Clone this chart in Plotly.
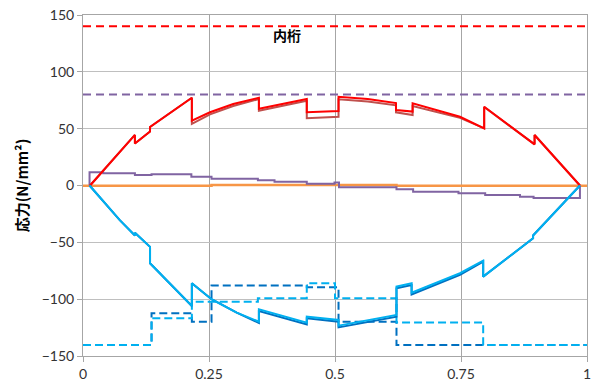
import plotly.graph_objects as go

# Position along the girder (normalised span) and stresses in N/mm2
limit_x = [0.0, 1.0]
upper_limit = [140, 140]
shear_limit = [80, 80]

# Upper flange stress, two load cases
top_x = [0.014, 0.103, 0.103, 0.133, 0.133, 0.216, 0.216, 0.252, 0.298, 0.349, 0.349,
         0.444, 0.444, 0.507, 0.507, 0.565, 0.621, 0.621, 0.654, 0.654, 0.748, 0.796,
         0.796, 0.896, 0.896, 0.986]
top_a = [0, 44.5, 37.0, 47.5, 51.5, 77.2, 57.0, 64.4, 71.7, 77.2, 67.5,
         76.1, 64.4, 65.5, 78.1, 76.0, 72.5, 66.4, 65.0, 72.3, 60.5, 50.3,
         69.3, 36.2, 44.4, 0]
top_b = [0, 44.5, 37.0, 47.5, 51.5, 77.2, 54.3, 62.6, 69.9, 76.1, 65.8,
         74.6, 59.1, 60.5, 75.8, 74.0, 70.5, 64.4, 62.0, 70.0, 59.5, 50.3,
         69.0, 36.2, 44.4, 0]

# Lower flange stress, two load cases
bot_x = [0.013, 0.073, 0.103, 0.103, 0.133, 0.133, 0.216, 0.216, 0.255, 0.305, 0.349,
         0.349, 0.444, 0.444, 0.507, 0.507, 0.622, 0.622, 0.652, 0.652, 0.748, 0.794,
         0.794, 0.893, 0.893, 0.986]
bot_a = [0, -30.5, -44.0, -41.5, -54.0, -68.4, -106.0, -86.0, -100.0, -111.9, -119.8,
         -108.9, -120.7, -115.4, -118.3, -123.3, -113.9, -89.0, -86.0, -94.3, -77.2, -66.1,
         -80.2, -46.5, -44.0, 0]
bot_b = [0, -30.5, -44.0, -41.5, -54.0, -68.4, -106.0, -86.0, -100.0, -111.9, -121.0,
         -110.4, -122.2, -116.9, -119.8, -124.8, -115.4, -90.5, -87.5, -95.8, -78.5, -67.0,
         -80.2, -46.5, -44.0, 0]

# Allowable stress of the lower flange (stepwise)
allow_dark_x = [0.0, 0.136, 0.216, 0.255, 0.444, 0.507, 0.622, 1.0]
allow_dark_y = [-140.3, -112.4, -119.8, -88.0, -89.5, -119.8, -140.3, -140.3]
allow_light_x = [0.0, 0.136, 0.216, 0.347, 0.444, 0.500, 0.622, 0.794, 1.0]
allow_light_y = [-140.3, -116.8, -102.2, -99.2, -86.0, -99.2, -120.5, -140.3, -140.3]

# Shear stress (stepwise)
shear_x = [0.013, 0.013, 0.040, 0.103, 0.136, 0.215, 0.255, 0.347, 0.380, 0.444, 0.499,
           0.508, 0.622, 0.655, 0.745, 0.798, 0.867, 0.894, 0.986]
shear_y = [0, 11.6, 10.7, 9.2, 9.8, 7.8, 6.0, 4.6, 3.4, 1.6, 2.6,
           -1.6, -3.4, -5.4, -6.9, -8.4, -9.8, -11.0, 0]

# Web stress (nearly zero)
web_x = [0.0, 0.255, 0.622, 1.0]
web_y = [-0.2, 0.4, -0.2, -0.2]

x_ticks = [0, 0.25, 0.5, 0.75, 1]
x_tick_text = ["0", "0.25", "0.5", "0.75", "1"]
y_ticks = [-150, -100, -50, 0, 50, 100, 150]

RED = "#FF0000"
DARK_RED = "#C0504D"
LIGHT_BLUE = "#00B0F0"
DARK_BLUE = "#0070C0"
PURPLE = "#8064A2"
ORANGE = "#F79646"

fig = go.Figure()

fig.add_trace(go.Scatter(x=limit_x, y=upper_limit, mode="lines",
                         line=dict(color=RED, width=2, dash="8px,5px")))
fig.add_trace(go.Scatter(x=limit_x, y=shear_limit, mode="lines",
                         line=dict(color=PURPLE, width=2, dash="8px,5px")))
fig.add_trace(go.Scatter(x=allow_dark_x, y=allow_dark_y, mode="lines", line_shape="hv",
                         line=dict(color=DARK_BLUE, width=2, dash="8px,4px")))
fig.add_trace(go.Scatter(x=allow_light_x, y=allow_light_y, mode="lines", line_shape="hv",
                         line=dict(color=LIGHT_BLUE, width=2, dash="8px,4px")))
fig.add_trace(go.Scatter(x=web_x, y=web_y, mode="lines", line_shape="hv",
                         line=dict(color=ORANGE, width=2.5)))
fig.add_trace(go.Scatter(x=shear_x, y=shear_y, mode="lines", line_shape="hv",
                         line=dict(color=PURPLE, width=2)))
fig.add_trace(go.Scatter(x=top_x, y=top_b, mode="lines",
                         line=dict(color=DARK_RED, width=2)))
fig.add_trace(go.Scatter(x=top_x, y=top_a, mode="lines",
                         line=dict(color=RED, width=2)))
fig.add_trace(go.Scatter(x=bot_x, y=bot_b, mode="lines",
                         line=dict(color=DARK_BLUE, width=2)))
fig.add_trace(go.Scatter(x=bot_x, y=bot_a, mode="lines",
                         line=dict(color=LIGHT_BLUE, width=2)))

fig.add_annotation(x=0.405, y=132, text="<b>内桁</b>", showarrow=False,
                   font=dict(family="Noto Sans CJK JP", size=14, color="#000000"))

fig.update_layout(
    width=598, height=385,
    margin=dict(l=83, r=11, t=15, b=29),
    paper_bgcolor="white", plot_bgcolor="white",
    showlegend=False,
    font=dict(family="Lato", size=14, color="#333333"),
)
fig.update_xaxes(
    range=[0, 1], tickvals=x_ticks, ticktext=x_tick_text, automargin=False,
    showgrid=True, gridcolor="#A6A6A6", gridwidth=1, zeroline=False,
    showline=True, linecolor="#A6A6A6", linewidth=1, mirror=True,
    ticks="outside", ticklen=5, tickcolor="#A6A6A6",
)
fig.update_yaxes(
    range=[-150, 150], tickvals=y_ticks, automargin=False,
    showgrid=True, gridcolor="#BFBFBF", gridwidth=1, zeroline=False,
    showline=True, linecolor="#A6A6A6", linewidth=1, mirror=True,
    ticks="outside", ticklen=5, tickcolor="#A6A6A6",
    title=dict(text="<b>応力(N/mm²)</b>", standoff=9,
               font=dict(family="Noto Sans CJK JP", size=15, color="#000000")),
)

fig.write_html("out.html")
